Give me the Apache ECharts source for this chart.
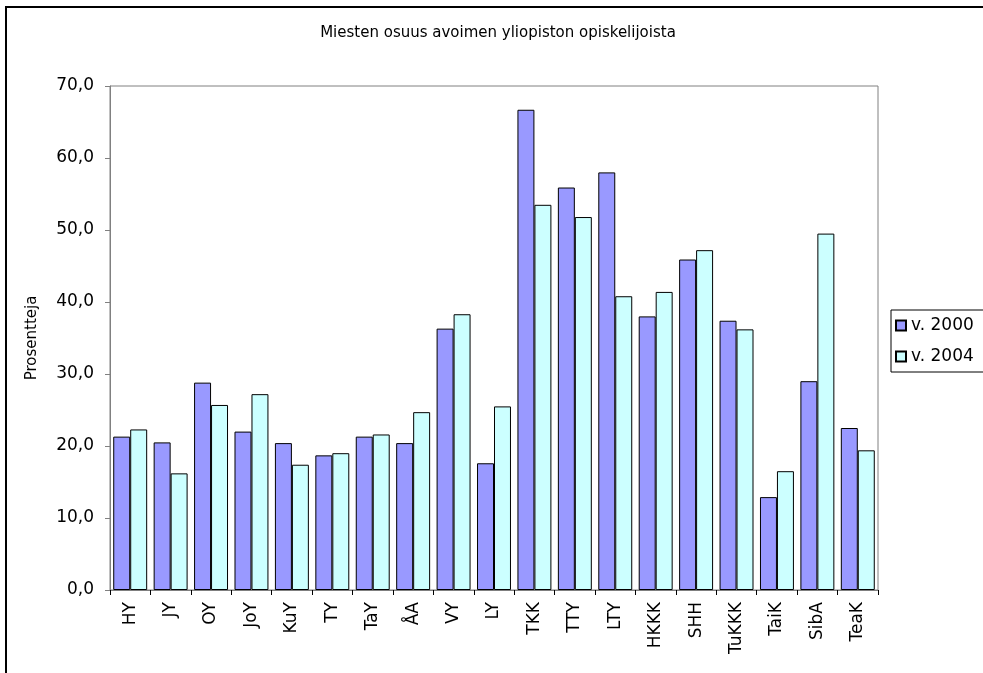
<!DOCTYPE html>
<html>
<head>
<meta charset="utf-8">
<script src="https://cdn.jsdelivr.net/npm/echarts@6/dist/echarts.min.js"></script>
<style>
html,body{margin:0;padding:0;background:#fff;}
#chart{width:983px;height:673px;}
</style>
</head>
<body>
<div id="chart"></div>
<script>
const titleText = 'Miesten osuus avoimen yliopiston opiskelijoista';
const yAxisName = 'Prosentteja';
const categories = ['HY','JY','OY','JoY','KuY','TY','TaY','ÅA','VY','LY','TKK','TTY','LTY','HKKK','SHH','TuKKK','TaiK','SibA','TeaK'];
const seriesNames = ['v. 2000', 'v. 2004'];
const values2000 = [21.3,20.5,28.8,22.0,20.4,18.7,21.3,20.4,36.3,17.6,66.7,55.9,58.0,38.0,45.9,37.4,12.9,29.0,22.5];
const values2004 = [22.3,16.2,25.7,27.2,17.4,19.0,21.6,24.7,38.3,25.5,53.5,51.8,40.8,41.4,47.2,36.2,16.5,49.5,19.4];
const yMin = 0, yMax = 70, yStep = 10;

const FONT = 'DejaVu Sans';
const chart = echarts.init(document.getElementById('chart'), null, {renderer: 'canvas'});
chart.setOption({
  backgroundColor: '#ffffff',
  animation: false,
  textStyle: {fontFamily: FONT, color: '#000'},
  graphic: [{
    type: 'rect', z: -10, silent: true,
    shape: {x: 6, y: 7, width: 1100, height: 800},
    style: {fill: 'none', stroke: '#000', lineWidth: 2}
  }],
  title: {
    text: titleText,
    left: 498, top: 26, textAlign: 'center', padding: 0,
    textStyle: {fontFamily: FONT, fontSize: 15, fontWeight: 'normal', color: '#000'}
  },
  legend: {
    orient: 'vertical',
    left: 891, top: 310,
    padding: [7, 30, 7, 4],
    itemWidth: 10, itemHeight: 10, itemGap: 14,
    icon: 'rect',
    borderColor: '#000', borderWidth: 1,
    backgroundColor: '#fff',
    textStyle: {fontFamily: FONT, fontSize: 17, color: '#000', lineHeight: 16},
    data: seriesNames
  },
  grid: {left: 110, top: 86, width: 768, height: 504, containLabel: false, outerBoundsMode: 'none',
         show: true, borderColor: '#808080', borderWidth: 1, backgroundColor: '#fff'},
  xAxis: {
    type: 'category',
    data: categories,
    axisLine: {show: true, lineStyle: {color: '#808080', width: 1}},
    axisTick: {show: true, length: 5, alignWithLabel: false, lineStyle: {color: '#000'}},
    axisLabel: {rotate: 90, margin: 12, fontFamily: FONT, fontSize: 17, color: '#000', interval: 0},
    splitLine: {show: false}
  },
  yAxis: {
    type: 'value',
    min: yMin, max: yMax, interval: yStep,
    name: yAxisName,
    nameLocation: 'middle',
    nameGap: 70,
    nameRotate: 90,
    nameTextStyle: {fontFamily: FONT, fontSize: 15, color: '#000'},
    axisLine: {show: true, lineStyle: {color: '#808080', width: 1}},
    axisTick: {show: true, length: 5, lineStyle: {color: '#808080'}},
    axisLabel: {margin: 16, fontFamily: FONT, fontSize: 17, color: '#000',
      formatter: v => v.toFixed(1).replace('.', ',')},
    splitLine: {show: false}
  },
  series: [
    {name: seriesNames[0], type: 'bar', data: values2000, barGap: '0%', barCategoryGap: '16%',
     itemStyle: {color: '#9999FF', borderColor: '#000', borderWidth: 1}},
    {name: seriesNames[1], type: 'bar', data: values2004, barGap: '0%', barCategoryGap: '16%',
     itemStyle: {color: '#CCFFFF', borderColor: '#000', borderWidth: 1}}
  ]
});
</script>
</body>
</html>
